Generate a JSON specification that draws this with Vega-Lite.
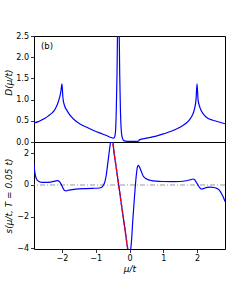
{
  "$schema": "https://vega.github.io/schema/vega-lite/v6.json",
  "padding": {"top": 31, "left": 3, "right": 0, "bottom": 0},
  "spacing": 0,
  "bounds": "flush",
  "datasets": {
    "dos": [
      {"mu": -2.828, "D": 0.45}, {"mu": -2.7, "D": 0.48}, {"mu": -2.6, "D": 0.52}, {"mu": -2.5, "D": 0.56},
      {"mu": -2.41, "D": 0.61}, {"mu": -2.3, "D": 0.68}, {"mu": -2.2, "D": 0.78}, {"mu": -2.12, "D": 0.92},
      {"mu": -2.07, "D": 1.05}, {"mu": -2.03, "D": 1.2}, {"mu": -2.0, "D": 1.37}, {"mu": -1.97, "D": 1.03},
      {"mu": -1.92, "D": 0.85}, {"mu": -1.85, "D": 0.74}, {"mu": -1.75, "D": 0.62}, {"mu": -1.6, "D": 0.5},
      {"mu": -1.45, "D": 0.42}, {"mu": -1.25, "D": 0.34}, {"mu": -1.03, "D": 0.26}, {"mu": -0.8, "D": 0.19},
      {"mu": -0.65, "D": 0.14}, {"mu": -0.54, "D": 0.105}, {"mu": -0.48, "D": 0.09}, {"mu": -0.44, "D": 0.12},
      {"mu": -0.41, "D": 0.3}, {"mu": -0.39, "D": 0.8}, {"mu": -0.37, "D": 1.6}, {"mu": -0.355, "D": 2.6},
      {"mu": -0.34, "D": 3.2}, {"mu": -0.32, "D": 3.2}, {"mu": -0.305, "D": 2.6}, {"mu": -0.29, "D": 1.6},
      {"mu": -0.27, "D": 0.8}, {"mu": -0.25, "D": 0.35}, {"mu": -0.22, "D": 0.12}, {"mu": -0.18, "D": 0.04},
      {"mu": -0.12, "D": 0.02}, {"mu": 0.0, "D": 0.015}, {"mu": 0.15, "D": 0.015}, {"mu": 0.27, "D": 0.02},
      {"mu": 0.29, "D": 0.05}, {"mu": 0.5, "D": 0.09}, {"mu": 0.79, "D": 0.14}, {"mu": 1.0, "D": 0.19},
      {"mu": 1.29, "D": 0.27}, {"mu": 1.45, "D": 0.33}, {"mu": 1.58, "D": 0.39}, {"mu": 1.7, "D": 0.46},
      {"mu": 1.78, "D": 0.53}, {"mu": 1.86, "D": 0.63}, {"mu": 1.93, "D": 0.8}, {"mu": 1.97, "D": 1.0},
      {"mu": 2.0, "D": 1.37}, {"mu": 2.03, "D": 1.0}, {"mu": 2.07, "D": 0.85}, {"mu": 2.13, "D": 0.73},
      {"mu": 2.22, "D": 0.63}, {"mu": 2.32, "D": 0.56}, {"mu": 2.45, "D": 0.52}, {"mu": 2.57, "D": 0.49},
      {"mu": 2.7, "D": 0.46}, {"mu": 2.828, "D": 0.43}
    ],
    "entropy": [
      {"mu": -2.828, "s": 1.3}, {"mu": -2.81, "s": 0.9}, {"mu": -2.78, "s": 0.55}, {"mu": -2.74, "s": 0.33},
      {"mu": -2.68, "s": 0.22}, {"mu": -2.6, "s": 0.17}, {"mu": -2.5, "s": 0.16}, {"mu": -2.4, "s": 0.17},
      {"mu": -2.3, "s": 0.2}, {"mu": -2.2, "s": 0.25}, {"mu": -2.13, "s": 0.27}, {"mu": -2.08, "s": 0.22},
      {"mu": -2.03, "s": 0.07}, {"mu": -1.98, "s": -0.15}, {"mu": -1.93, "s": -0.33}, {"mu": -1.88, "s": -0.37},
      {"mu": -1.8, "s": -0.33}, {"mu": -1.65, "s": -0.28}, {"mu": -1.5, "s": -0.25}, {"mu": -1.3, "s": -0.23},
      {"mu": -1.1, "s": -0.21}, {"mu": -0.9, "s": -0.19}, {"mu": -0.82, "s": -0.14}, {"mu": -0.77, "s": 0.0},
      {"mu": -0.73, "s": 0.2}, {"mu": -0.69, "s": 0.6}, {"mu": -0.64, "s": 1.43}, {"mu": -0.6, "s": 2.1},
      {"mu": -0.56, "s": 2.75}, {"mu": -0.53, "s": 3.2}, {"mu": -0.5, "s": 3.0}, {"mu": -0.47, "s": 2.27},
      {"mu": -0.4, "s": 1.21}, {"mu": -0.3, "s": -0.31}, {"mu": -0.2, "s": -1.82}, {"mu": -0.1, "s": -3.33},
      {"mu": -0.06, "s": -3.94}, {"mu": -0.03, "s": -4.2}, {"mu": 0.01, "s": -4.25}, {"mu": 0.045, "s": -3.9},
      {"mu": 0.07, "s": -3.2}, {"mu": 0.1, "s": -2.15}, {"mu": 0.15, "s": -0.68}, {"mu": 0.2, "s": 0.59},
      {"mu": 0.235, "s": 1.15}, {"mu": 0.26, "s": 1.25}, {"mu": 0.3, "s": 1.12}, {"mu": 0.35, "s": 0.85},
      {"mu": 0.4, "s": 0.59}, {"mu": 0.47, "s": 0.43}, {"mu": 0.55, "s": 0.34}, {"mu": 0.65, "s": 0.28},
      {"mu": 0.8, "s": 0.24}, {"mu": 1.0, "s": 0.22}, {"mu": 1.3, "s": 0.21}, {"mu": 1.5, "s": 0.22},
      {"mu": 1.68, "s": 0.27}, {"mu": 1.8, "s": 0.33}, {"mu": 1.88, "s": 0.38}, {"mu": 1.93, "s": 0.33},
      {"mu": 1.98, "s": 0.17}, {"mu": 2.04, "s": -0.05}, {"mu": 2.1, "s": -0.22}, {"mu": 2.15, "s": -0.26},
      {"mu": 2.22, "s": -0.2}, {"mu": 2.3, "s": -0.15}, {"mu": 2.4, "s": -0.14}, {"mu": 2.5, "s": -0.16},
      {"mu": 2.6, "s": -0.23}, {"mu": 2.67, "s": -0.35}, {"mu": 2.73, "s": -0.57}, {"mu": 2.78, "s": -0.78},
      {"mu": 2.828, "s": -1.05}
    ],
    "linear": [
      {"mu": -0.518, "s": 3.0}, {"mu": -0.036, "s": -4.3}
    ],
    "zero": [
      {"s": 0}
    ]
  },
  "vconcat": [
    {
      "width": 191,
      "height": 106,
      "layer": [
        {
          "data": {"name": "dos"},
          "mark": {"type": "line", "color": "#0000ff", "strokeWidth": 1.2, "interpolate": "monotone", "clip": true},
          "encoding": {
            "x": {"field": "mu", "type": "quantitative", "scale": {"domain": [-2.828, 2.828], "nice": false, "zero": false}, "axis": null},
            "y": {"field": "D", "type": "quantitative", "scale": {"domain": [0, 2.5], "nice": false},
                  "axis": {"values": [0, 0.5, 1, 1.5, 2, 2.5], "tickCount": 20, "format": ".1f", "title": "D(μ/t)", "titleX": -21, "titleY": 46, "labelOverlap": false, "labelFlush": false}}
          }
        },
        {
          "data": {"name": "zero"},
          "mark": {"type": "text", "align": "left", "baseline": "middle", "fontSize": 8.5, "font": "DejaVu Sans", "color": "black"},
          "encoding": {
            "x": {"datum": -2.62},
            "y": {"datum": 2.27},
            "text": {"value": "(b)"}
          }
        }
      ]
    },
    {
      "width": 191,
      "height": 107,
      "layer": [
        {
          "data": {"name": "zero"},
          "mark": {"type": "rule", "color": "#808080", "strokeWidth": 0.8, "strokeDash": [5, 2, 1, 2]},
          "encoding": {"y": {"field": "s", "type": "quantitative"}}
        },
        {
          "data": {"name": "entropy"},
          "mark": {"type": "line", "color": "#0000ff", "strokeWidth": 1.2, "interpolate": "monotone", "clip": true},
          "encoding": {
            "x": {"field": "mu", "type": "quantitative", "scale": {"domain": [-2.828, 2.828], "nice": false, "zero": false},
                  "axis": {"values": [-2, -1, 0, 1, 2], "tickCount": 20, "format": "d", "title": "μ/t", "labelOverlap": false}},
            "y": {"field": "s", "type": "quantitative", "scale": {"domain": [-4.05, 2.72], "nice": false, "zero": false},
                  "axis": {"values": [-4, -2, 0, 2], "tickCount": 20, "format": "d", "title": "s(μ/t, T = 0.05 t)", "titleX": -21, "labelOverlap": false, "labelFlush": false}}
          }
        },
        {
          "data": {"name": "linear"},
          "mark": {"type": "line", "color": "#ff0000", "strokeWidth": 1.4, "strokeDash": [4, 2], "clip": true},
          "encoding": {
            "x": {"field": "mu", "type": "quantitative"},
            "y": {"field": "s", "type": "quantitative"}
          }
        }
      ]
    }
  ],
  "config": {
    "view": {"stroke": "black", "strokeWidth": 1},
    "axis": {
      "domain": false,
      "grid": false,
      "ticks": true,
      "tickColor": "black",
      "tickSize": 3.5,
      "tickWidth": 0.8,
      "labelFont": "DejaVu Sans",
      "labelFontSize": 8,
      "labelColor": "black",
      "labelPadding": 2,
      "labelBound": false,
      "titleFont": "DejaVu Sans",
      "titleFontSize": 9,
      "titleFontStyle": "italic",
      "titleFontWeight": "normal",
      "titleColor": "black",
      "titlePadding": 2
    }
  }
}
